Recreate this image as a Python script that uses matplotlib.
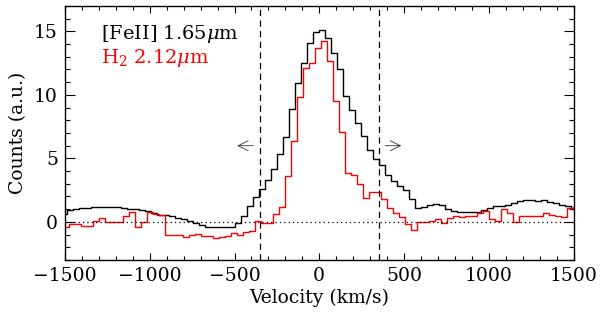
import numpy as np
import matplotlib
matplotlib.use("Agg")
import matplotlib.pyplot as plt
from matplotlib.ticker import MultipleLocator

plt.rcParams['font.family'] = ['DejaVu Serif']
plt.rcParams['mathtext.fontset'] = 'dejavuserif'

# channel grid (km/s)
dv = 35.4
feii_v0 = 17.7 - 43 * dv   # first [FeII] channel centre
h2_v0 = 28.0 - 44 * dv     # first H2 channel centre

feii_counts = [
    0.62, 0.96, 1.02, 1.10, 1.12, 1.15, 1.15, 1.15, 1.15, 1.15,
    1.09, 1.04, 1.02, 0.96, 0.88, 0.70, 0.57, 0.52, 0.49, 0.33,
    0.23, 0.10, -0.12, -0.25, -0.38, -0.38, -0.42, -0.40, -0.42, -0.08,
    0.50, 1.22, 1.93, 2.60, 3.30, 4.19, 5.31, 6.67, 8.90, 10.96,
    12.50, 14.10, 14.95, 15.10, 14.50, 13.30, 12.00, 9.95, 8.85, 7.80,
    6.80, 5.70, 4.92, 4.48, 3.67, 3.23, 2.84, 2.53, 1.80, 1.07,
    1.20, 1.33, 1.43, 1.33, 1.02, 0.88, 0.81, 0.75, 0.75, 0.78,
    0.90, 1.07, 1.22, 1.28, 1.36, 1.50, 1.62, 1.72, 1.72, 1.67,
    1.70, 1.60, 1.47, 1.35, 1.25, 1.00,
]

h2_counts = [
    -0.42, -0.42, -0.16, -0.16, -0.34, -0.34, 0.10, 0.31, 0.00, 0.00,
    0.00, 0.49, 0.75, -0.42, 0.00, 0.75, 0.65, 0.54, -1.00, -1.00,
    -1.05, -1.20, -1.00, -0.94, -1.12, -1.12, -1.27, -1.20, -1.12, -0.88,
    -1.05, -0.80, -0.68, 0.08, -0.08, -0.10, 0.65, 1.15, 3.62, 6.35,
    9.80, 12.10, 12.50, 13.70, 14.25, 12.70, 9.50, 7.10, 3.85, 3.70,
    3.00, 1.90, 2.37, 2.37, 1.80, 1.10, 0.70, 0.37, -0.16, -0.60,
    0.02, 0.02, 0.10, 0.20, -0.10, 0.30, 0.43, 0.35, 0.50, 0.47,
    0.70, 0.86, 0.20, 0.10, 1.00, 0.70, 0.02, 0.45, 0.50, 0.45,
    0.43, 0.67, 0.57, 0.50, 0.38, 1.07, 1.15,
]

feii_v = feii_v0 + dv * np.arange(len(feii_counts))
h2_v = h2_v0 + dv * np.arange(len(h2_counts))

v_cut = 350
labels = [r'[FeII] 1.65$\mu$m', r'H$_2$ 2.12$\mu$m']

fig = plt.figure(figsize=(6.0, 3.17), dpi=100)
ax = fig.add_axes([65/600, 57/317, 508.5/600, 254/317])

ax.step(feii_v, feii_counts, where='mid', color='black', lw=1.0)
ax.step(h2_v, h2_counts, where='mid', color='red', lw=1.0)

ax.axhline(0, color='black', lw=0.9, ls=(0, (1, 2.5)))
for v in (-v_cut, v_cut):
    ax.axvline(v, color='black', lw=0.9, ls=(0, (5, 3.5)))

for sgn in (-1, 1):
    ax.annotate('', xy=(sgn * 500, 6), xytext=(sgn * 372, 6),
                arrowprops=dict(arrowstyle='->', lw=0.6, color='#333333',
                                mutation_scale=18))

ax.text(-1290, 14.8, labels[0], color='black', fontsize=14, va='center')
ax.text(-1290, 12.9, labels[1], color='red', fontsize=14, va='center')

ax.set_xlim(-1500, 1500)
ax.set_ylim(-3, 17)
ax.xaxis.set_major_locator(MultipleLocator(500))
ax.xaxis.set_minor_locator(MultipleLocator(100))
ax.yaxis.set_major_locator(MultipleLocator(5))
ax.yaxis.set_minor_locator(MultipleLocator(1))
ax.tick_params(axis='both', which='both', direction='in', top=True, right=True,
               labelsize=13.5, width=0.8)
ax.tick_params(axis='x', which='major', length=5, pad=5)
ax.tick_params(axis='x', which='minor', length=2.8)
ax.tick_params(axis='y', which='major', length=7.5, pad=5)
ax.tick_params(axis='y', which='minor', length=3.8)
for s in ax.spines.values():
    s.set_linewidth(1.0)

ax.set_xlabel('Velocity (km/s)', fontsize=13.5, labelpad=3)
ax.set_ylabel('Counts (a.u.)', fontsize=13.5, labelpad=5)

fig.savefig('out.png', dpi=100)
